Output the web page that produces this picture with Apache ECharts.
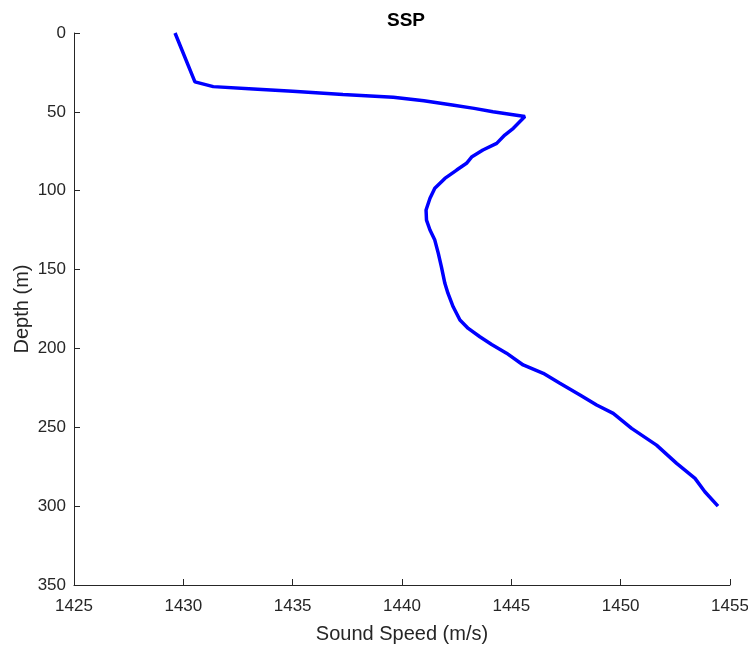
<!DOCTYPE html>
<html>
<head>
<meta charset="utf-8">
<script src="https://cdn.jsdelivr.net/npm/echarts@6/dist/echarts.min.js"></script>
<style>
  html, body { margin: 0; padding: 0; background: #ffffff; }
  #chart { width: 748px; height: 647px; }
</style>
</head>
<body>
<div id="chart"></div>
<script>
// Sound speed profile: speed (m/s) against depth (m)
const soundSpeed = [
  1429.62, 1430.53, 1431.37, 1433.2, 1435.0, 1437.3, 1439.6, 1441.0, 1442.3, 1443.3,
  1444.16, 1445.62, 1445.09, 1444.7, 1444.33, 1443.7, 1443.2, 1442.95, 1442.5, 1441.96,
  1441.5, 1441.28, 1441.1, 1441.12, 1441.28, 1441.5, 1441.66, 1441.8, 1441.96, 1442.1,
  1442.34, 1442.65, 1443.03, 1443.56, 1444.1, 1444.78, 1445.54, 1446.46, 1447.22, 1448.14,
  1448.9, 1449.66, 1450.5, 1451.64, 1452.56, 1453.4, 1453.85, 1454.45
];
const depth = [
  0, 31, 34, 35.5, 37, 39, 40.8, 43, 45.7, 47.8,
  49.9, 53, 60.4, 64.7, 70, 74.2, 78.4, 82.6, 86.9, 92.2,
  98.5, 104.8, 112.2, 118.6, 124.9, 131.3, 139.7, 148.2, 158.7, 165,
  173.6, 182, 187.3, 192.6, 197.5, 203, 210.5, 215.8, 222.1, 229.5,
  235.9, 241.2, 250.7, 261.3, 272.9, 282.4, 290.9, 300
];
const speedTicks = { min: 1425, max: 1455, step: 5 };
const depthTicks = { min: 0, max: 350, step: 50 };

const chart = echarts.init(document.getElementById('chart'), null, { renderer: 'canvas' });
const axisColor = '#262626';
const fontFamily = 'Liberation Sans, Arial, Helvetica, sans-serif';
const plain = v => String(v);

chart.setOption({
  animation: false,
  backgroundColor: '#ffffff',
  title: {
    text: 'SSP',
    left: 401,
    textAlign: 'center',
    top: 6,
    textStyle: { fontFamily, fontWeight: 'bold', fontSize: 19, color: '#000000' }
  },
  grid: { left: 74, right: 18, top: 33, bottom: 62, outerBoundsMode: 'none', containLabel: false },
  xAxis: {
    type: 'value',
    position: 'bottom',
    min: speedTicks.min,
    max: speedTicks.max,
    interval: speedTicks.step,
    name: 'Sound Speed (m/s)',
    nameLocation: 'middle',
    nameGap: 39,
    nameMoveOverlap: false,
    nameTextStyle: { fontFamily, fontSize: 20, color: axisColor },
    axisLine: { show: true, onZero: false, lineStyle: { color: axisColor, width: 1 } },
    axisTick: { show: true, inside: true, length: 6, lineStyle: { color: axisColor } },
    axisLabel: { fontFamily, fontSize: 17, color: axisColor, margin: 13, formatter: plain },
    splitLine: { show: false }
  },
  yAxis: {
    type: 'value',
    position: 'left',
    inverse: true,
    min: depthTicks.min,
    max: depthTicks.max,
    interval: depthTicks.step,
    name: 'Depth (m)',
    nameLocation: 'middle',
    nameGap: 42,
    nameMoveOverlap: false,
    nameTextStyle: { fontFamily, fontSize: 20, color: axisColor },
    axisLine: { show: true, onZero: false, lineStyle: { color: axisColor, width: 1 } },
    axisTick: { show: true, inside: true, length: 6, lineStyle: { color: axisColor } },
    axisLabel: { fontFamily, fontSize: 17, color: axisColor, margin: 8, formatter: plain },
    splitLine: { show: false }
  },
  series: [{
    type: 'line',
    data: soundSpeed.map((s, i) => [s, depth[i]]),
    showSymbol: false,
    symbol: 'none',
    smooth: false,
    lineStyle: { color: '#0000ff', width: 3.5 },
    itemStyle: { color: '#0000ff' }
  }]
});
</script>
</body>
</html>
